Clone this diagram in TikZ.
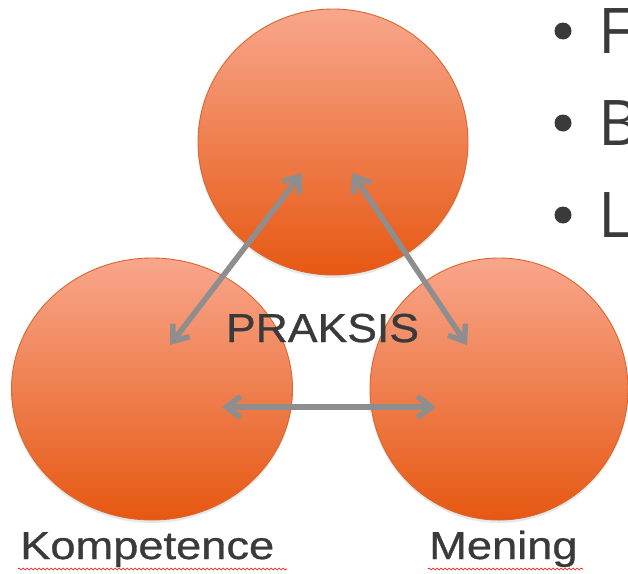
\documentclass[tikz,border=0pt]{standalone}
\usepackage{fontspec}
\setmainfont{Liberation Sans}
\newfontfamily\wordfont{Liberation Sans}[FakeBold=0.7]
\newfontfamily\bulletfont{Open Sans}
\usetikzlibrary{arrows.meta,shapes.geometric,shadows,decorations.pathmorphing}
\definecolor{ringtop}{HTML}{F8A68C}
\definecolor{ringbot}{HTML}{E65812}
\definecolor{ringedge}{HTML}{D9662F}
\definecolor{arrowgray}{HTML}{8E8E8E}
\definecolor{textgray}{HTML}{3A3A3A}
\newcommand{\widetext}[2]{\scalebox{#1}[1]{#2}}
\tikzset{
  ring/.style={ellipse, draw=ringedge, line width=0.9pt, top color=ringtop, bottom color=ringbot,
    drop shadow={opacity=0.18, shadow xshift=0pt, shadow yshift=-3pt}},
  link/.style={draw=arrowgray, line width=5.5pt,
    {Straight Barb[length=14pt,width=21pt]}-{Straight Barb[length=14pt,width=21pt]}},
  word/.style={font=\wordfont\fontsize{39}{39}\selectfont, text=textgray, inner sep=0pt},
  point/.style={font=\bulletfont\fontsize{63}{63}\selectfont, text=textgray, inner sep=0pt},
  spell/.style={draw=red, line width=0.6pt, decorate, decoration={snake, amplitude=1pt, segment length=4pt}},
}
\begin{document}
\begin{tikzpicture}[x=1pt, y=-1pt]
    \useasboundingbox (0, 0) rectangle (628, 573) ;
    \clip (0, 0) rectangle (628, 573) ;
    \node[ring, minimum width=270pt, minimum height=266pt] (praksis) at (333, 142) {} ;
    \node[ring, minimum width=281pt, minimum height=262pt] (kompring) at (152, 389) {} ;
    \node[ring, minimum width=258pt, minimum height=262pt] (menring) at (499, 389) {} ;
    \coordinate (kp1) at (170, 345) ;
    \coordinate (pr1) at (302, 173) ;
    \coordinate (pr2) at (352, 173) ;
    \coordinate (mn1) at (467, 345) ;
    \coordinate (kp2) at (222, 407) ;
    \coordinate (mn2) at (436, 407) ;
    \draw[link] (kp1) -- (pr1) ;
    \draw[link] (pr2) -- (mn1) ;
    \draw[link] (kp2) -- (mn2) ;
    \node[word, font=\wordfont\fontsize{40.5}{40.5}\selectfont, anchor=base] (praksistext) at (322.5, 342) {\widetext{1.1}{PRAKSIS}} ;
    \node[word, anchor=base west] (kompetence) at (20, 559) {\widetext{1.16}{Kompetence}} ;
    \node[word, anchor=base west] (mening) at (429, 559) {\widetext{1.16}{Mening}} ;
    \draw[spell] (18, 569) -- (287, 569) ;
    \draw[spell] (428, 569) -- (583, 569) ;
    \foreach \ltr/\yy in {F/53, B/145, L/237} {
        \fill[textgray] (563, \yy - 22) circle (8.5pt) ;
        \node[point, anchor=base west] (item\ltr) at (598, \yy) {\ltr} ;
    }
  \end{tikzpicture}
\end{document}
